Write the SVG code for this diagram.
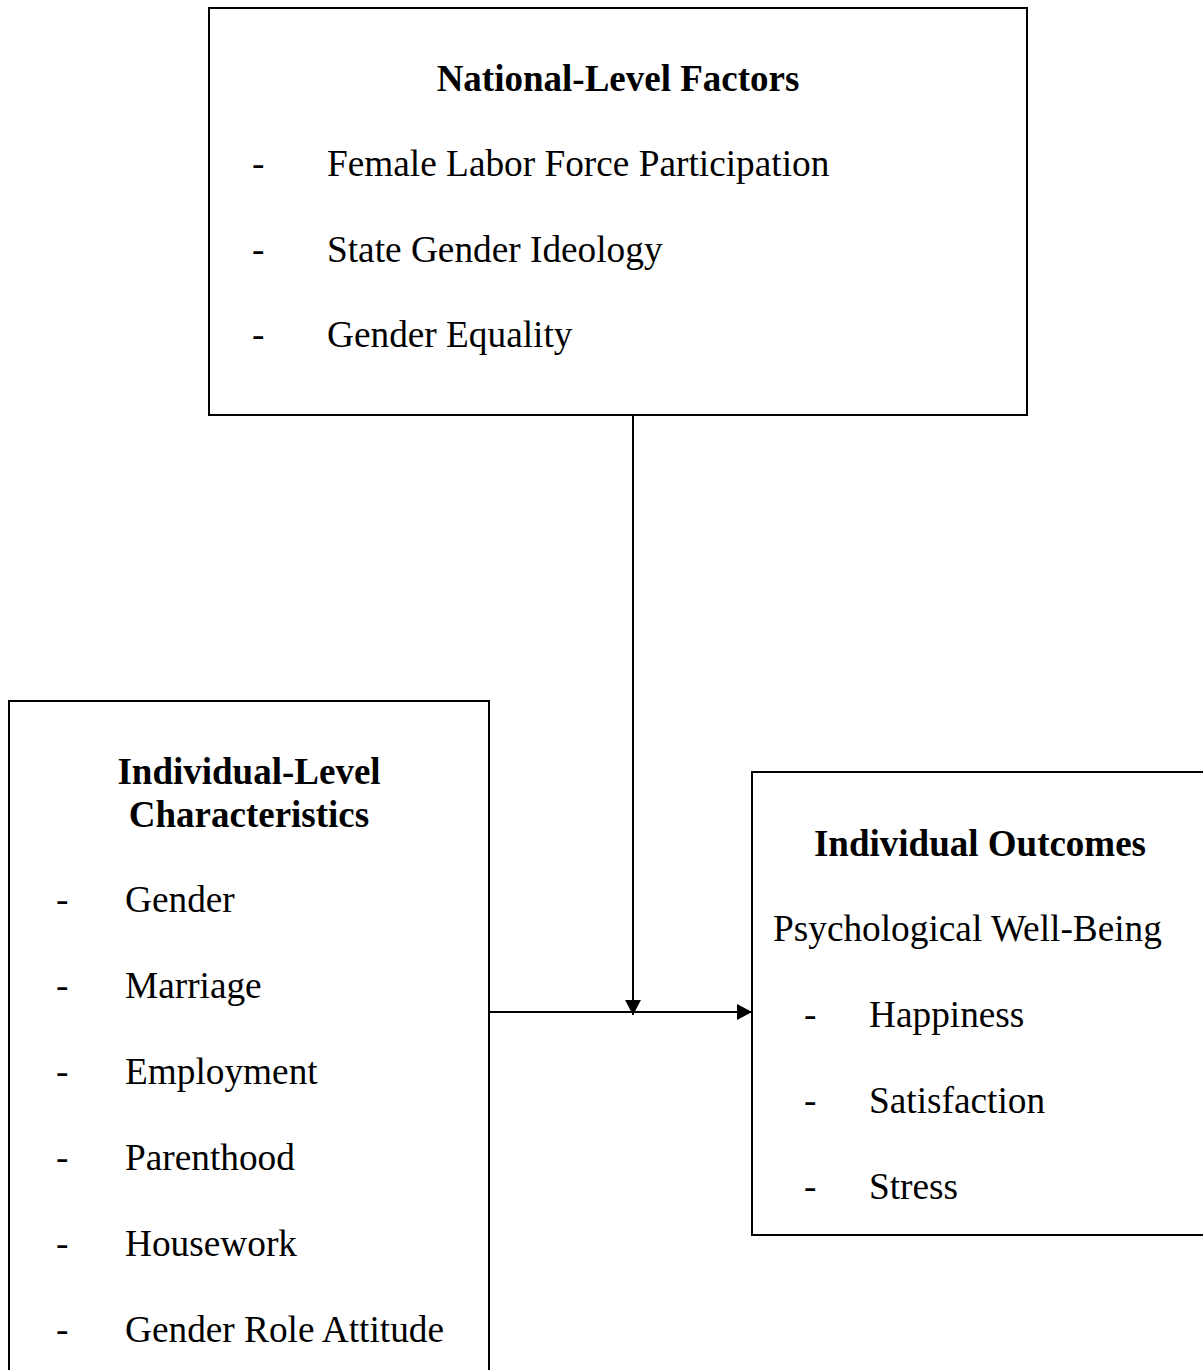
<svg xmlns="http://www.w3.org/2000/svg" width="1203" height="1370" viewBox="0 0 1203 1370">
<style>
.box{fill:#fff;stroke:#000;stroke-width:2}
text{font-family:"Liberation Serif","Times New Roman",serif;font-size:37.3px;fill:#000}
.h{font-weight:bold;text-anchor:middle;font-size:37px}
.ln{stroke:#000;stroke-width:2;fill:none}
</style>
<defs>
<marker id="ah" viewBox="0 0 15 16" refX="15" refY="8" markerWidth="15" markerHeight="16" markerUnits="userSpaceOnUse" orient="auto">
<path d="M0,0 L15,8 L0,16 Z" fill="#000"/>
</marker>
</defs>
<rect width="1203" height="1370" fill="#fff"/>
<g id="national">
<rect class="box" x="209" y="8" width="818" height="407"/>
<text class="h" x="618" y="91">National-Level Factors</text>
<text x="252" y="176">-</text><text x="327" y="176">Female Labor Force Participation</text>
<text x="252" y="262">-</text><text x="327" y="262">State Gender Ideology</text>
<text x="252" y="347">-</text><text x="327" y="347">Gender Equality</text>
</g>
<g id="individual">
<rect class="box" x="9" y="701" width="480" height="680"/>
<text class="h" x="249" y="784">Individual-Level</text>
<text class="h" x="249" y="827">Characteristics</text>
<text x="56" y="912">-</text><text x="125" y="912">Gender</text>
<text x="56" y="998">-</text><text x="125" y="998">Marriage</text>
<text x="56" y="1084">-</text><text x="125" y="1084">Employment</text>
<text x="56" y="1170">-</text><text x="125" y="1170">Parenthood</text>
<text x="56" y="1256">-</text><text x="125" y="1256">Housework</text>
<text x="56" y="1342">-</text><text x="125" y="1342">Gender Role Attitude</text>
</g>
<g id="outcomes">
<rect class="box" x="752" y="772" width="470" height="463"/>
<text class="h" x="980" y="856">Individual Outcomes</text>
<text x="773" y="941">Psychological Well-Being</text>
<text x="804" y="1027">-</text><text x="869" y="1027">Happiness</text>
<text x="804" y="1113">-</text><text x="869" y="1113">Satisfaction</text>
<text x="804" y="1199">-</text><text x="869" y="1199">Stress</text>
</g>
<g id="connectors">
<line class="ln" x1="633" y1="415" x2="633" y2="1015" marker-end="url(#ah)"/>
<line class="ln" x1="489" y1="1012" x2="752" y2="1012" marker-end="url(#ah)"/>
</g>
</svg>
